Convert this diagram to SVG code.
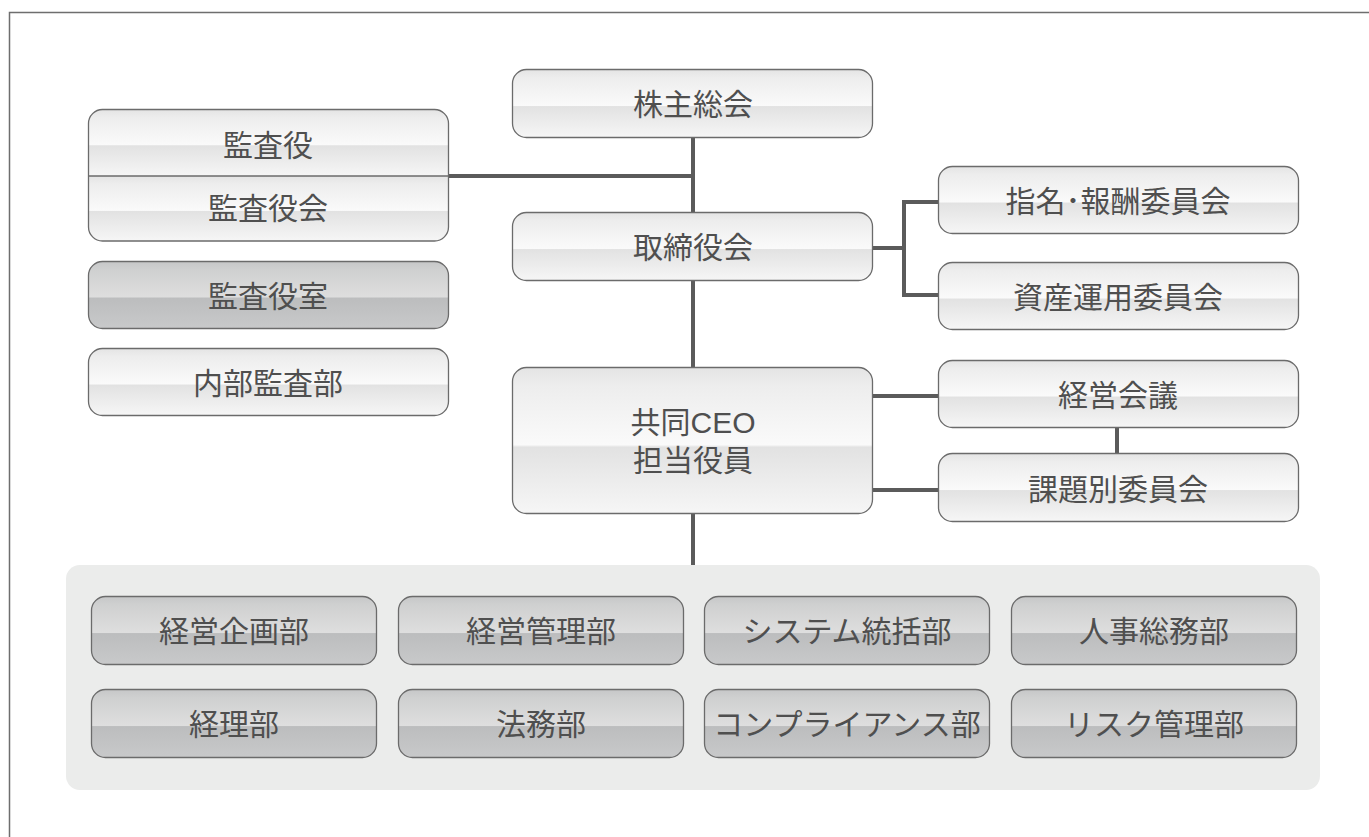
<svg xmlns="http://www.w3.org/2000/svg" width="1369" height="837" viewBox="0 0 1369 837">
<defs>
<linearGradient id="gl" x1="0" y1="0" x2="0" y2="1">
<stop offset="0" stop-color="#e4e4e4"/>
<stop offset="0.12" stop-color="#ededed"/>
<stop offset="0.53" stop-color="#fafafa"/>
<stop offset="0.545" stop-color="#e2e2e2"/>
<stop offset="1" stop-color="#f6f6f6"/>
</linearGradient>
<linearGradient id="gd" x1="0" y1="0" x2="0" y2="1">
<stop offset="0" stop-color="#c6c7c8"/>
<stop offset="0.12" stop-color="#cfd0d0"/>
<stop offset="0.53" stop-color="#dedede"/>
<stop offset="0.545" stop-color="#bcbdbe"/>
<stop offset="1" stop-color="#c8c9ca"/>
</linearGradient>
<clipPath id="kclip"><rect x="88.5" y="109.5" width="360" height="131.5" rx="14"/></clipPath>
<style>
.lb{fill:url(#gl);stroke:#6b6b6b;stroke-width:1.3}
.db{fill:url(#gd);stroke:#6b6b6b;stroke-width:1.3}
.t{font-family:"Liberation Sans","Noto Sans CJK JP",sans-serif;font-size:30px;fill:#4f4f4f;text-anchor:middle;dominant-baseline:central}
.c{fill:none;stroke:#5b5b5b;stroke-width:4}
</style>
</defs>
<rect x="0" y="0" width="1369" height="837" fill="#ffffff"/>
<rect x="9.5" y="12.5" width="1420" height="900" fill="none" stroke="#6e6e6e" stroke-width="1.5"/>
<rect id="panel" x="66" y="565" width="1254" height="225" rx="14" fill="#ebeceb"/>

<g id="connectors">
<path class="c" d="M693,138 V212"/>
<path class="c" d="M449,176 H693"/>
<path class="c" d="M693,280 V367"/>
<path class="c" d="M873,248 H904 M938,202 H904 V295 H938"/>
<path class="c" d="M872,396 H938 M872,490 H938"/>
<path class="c" d="M1117,428 V453"/>
<path class="c" d="M693,514 V565"/>
</g>

<g id="n-kabunushi"><rect class="lb" x="512.5" y="69.5" width="360" height="68" rx="14"/><text class="t" x="693" y="104">株主総会</text></g>
<g id="n-torishimariyakukai"><rect class="lb" x="512.5" y="212.5" width="360" height="68" rx="14"/><text class="t" x="693" y="247">取締役会</text></g>
<g id="n-kansayaku">
<g clip-path="url(#kclip)">
<rect fill="url(#gl)" x="88.5" y="109.5" width="360" height="66.5"/>
<rect fill="url(#gl)" x="88.5" y="176" width="360" height="65"/>
</g>
<rect fill="none" stroke="#6b6b6b" stroke-width="1.3" x="88.5" y="109.5" width="360" height="131.5" rx="14"/>
<path d="M88.5,176 H448.5" stroke="#6b6b6b" stroke-width="1.3"/>
<text class="t" x="268" y="145">監査役</text>
<text class="t" x="268" y="208">監査役会</text>
</g>
<g id="n-kansayakushitsu"><rect class="db" x="88.5" y="261.5" width="360" height="67" rx="14"/><text class="t" x="268" y="296">監査役室</text></g>
<g id="n-naibukansa"><rect class="lb" x="88.5" y="348.5" width="360" height="67" rx="14"/><text class="t" x="268" y="383">内部監査部</text></g>
<g id="n-shimei"><rect class="lb" x="938.5" y="166.5" width="360" height="67" rx="14"/><text class="t" x="1118" y="201">指名･報酬委員会</text></g>
<g id="n-shisan"><rect class="lb" x="938.5" y="262.5" width="360" height="67" rx="14"/><text class="t" x="1118" y="297">資産運用委員会</text></g>
<g id="n-ceo"><rect class="lb" x="512.5" y="367.5" width="360" height="146" rx="14"/><text class="t" x="693" y="422">共同CEO</text><text class="t" x="693" y="460">担当役員</text></g>
<g id="n-keieikaigi"><rect class="lb" x="938.5" y="360.5" width="360" height="67" rx="14"/><text class="t" x="1118" y="395">経営会議</text></g>
<g id="n-kadaibetsu"><rect class="lb" x="938.5" y="453.5" width="360" height="68" rx="14"/><text class="t" x="1118" y="489">課題別委員会</text></g>

<g id="n-keieikikaku"><rect class="db" x="91.5" y="596.5" width="285" height="68" rx="14"/><text class="t" x="234" y="631">経営企画部</text></g>
<g id="n-keieikanri"><rect class="db" x="398.5" y="596.5" width="285" height="68" rx="14"/><text class="t" x="541" y="631">経営管理部</text></g>
<g id="n-system"><rect class="db" x="704.5" y="596.5" width="285" height="68" rx="14"/><text class="t" x="847" y="631">システム統括部</text></g>
<g id="n-jinji"><rect class="db" x="1011.5" y="596.5" width="285" height="68" rx="14"/><text class="t" x="1154" y="631">人事総務部</text></g>
<g id="n-keiri"><rect class="db" x="91.5" y="689.5" width="285" height="68" rx="14"/><text class="t" x="234" y="724">経理部</text></g>
<g id="n-houmu"><rect class="db" x="398.5" y="689.5" width="285" height="68" rx="14"/><text class="t" x="541" y="724">法務部</text></g>
<g id="n-compliance"><rect class="db" x="704.5" y="689.5" width="285" height="68" rx="14"/><text class="t" x="847" y="724">コンプライアンス部</text></g>
<g id="n-risk"><rect class="db" x="1011.5" y="689.5" width="285" height="68" rx="14"/><text class="t" x="1154" y="724">リスク管理部</text></g>
</svg>
